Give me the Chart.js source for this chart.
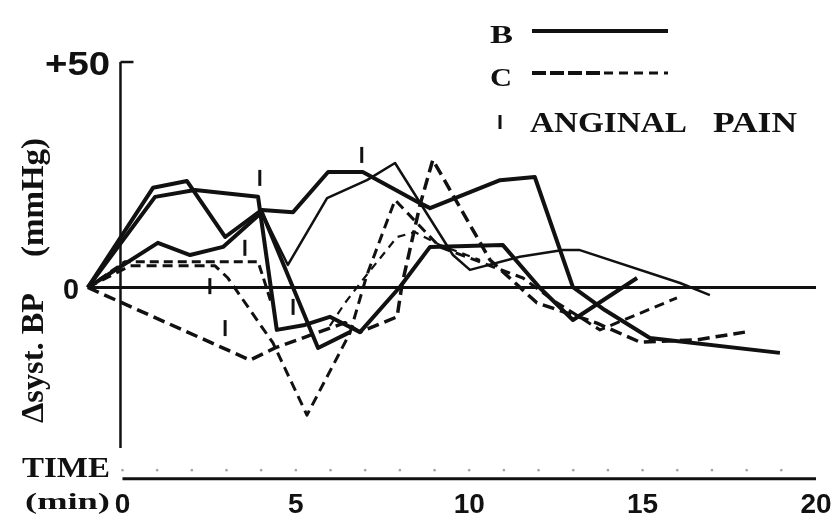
<!DOCTYPE html>
<html lang="en">
<head>
<meta charset="UTF-8">
<title>Delta syst. BP during exercise</title>
<style>
  html, body { margin: 0; padding: 0; background: #fff; }
  #wrap { width: 834px; height: 526px; position: relative; }
</style>
</head>
<body>
<div id="wrap"><canvas id="chart"></canvas></div>
<script src="https://cdn.jsdelivr.net/npm/chart.js@4.4.1/dist/chart.umd.min.js"></script>
<script>
// [time (min), change of systolic BP (mmHg)]
// B = solid lines, C = dashed lines
const b1 = [[-1,0],[0.88,22.1],[1.86,23.6],[2.96,11.2],[4.02,17.2],[4.92,16.7],[5.93,25.6],[6.93,25.6],
            [8.58,18.7],[8.87,17.6],[10.89,23.8],[11.89,24.5],[12.99,0.1],[13.91,-5.0],[15.21,-11.2],[18.96,-14.5]]
const b2 = [[-1,0],[0.94,20.1],[2.09,21.6],[3.91,20.1],[4.45,-9.4],[5.26,-8.3],[5.98,-6.5],[6.85,-9.9],
            [8.0,0.1],[8.87,9.0],[10.97,9.4],[12.04,-0.1],[12.99,-7.2],[14.84,2.1]]
const b3 = [[-1,0],[1.02,9.9],[1.95,7.2],[2.90,9.0],[4.02,16.7],[5.64,-13.4],[6.56,-9.9]]
const b4 = [[4.02,16.7],[4.77,5.0],[5.90,19.8],[7.05,23.8],[7.86,27.6],[9.53,7.2],[10.02,3.9],
            [11.46,6.8],[12.70,8.3],[13.19,8.3],[16.08,1.0],[16.94,-1.7]]

const c1 = [[-1,0],[3.68,-16.1],[4.40,-13.4],[6.42,-7.8],[6.85,-9.9],[7.92,-6.5],[8.06,0.6],[8.58,18.3],
            [8.95,28.3],[9.73,17.8],[10.60,6.1],[11.95,-3.4],[13.68,-7.9],[14.92,-12.1],[16.57,-11.6],[17.95,-9.9]]
const c2 = [[-1,0],[0.22,4.8],[2.67,4.8],[3.04,2.1],[4.34,-12.3],[5.32,-28.3],[6.56,-10.1],[7.05,2.8],
            [7.86,19.4],[9.15,9.0],[11.55,2.1],[12.41,-2.8],[13.77,-9.4],[15.99,-2.3]]
const c3 = [[-1,0],[0.07,5.7],[3.91,5.7],[4.11,1.0],[4.31,-3.9]]
const c4 = [[5.98,-8.5],[6.42,-3.4],[6.93,1.7],[7.92,11.2],[8.43,12.3],[9.16,9.4],[10.31,6.1]]

// anginal pain marks
const painMarks = [[3.96,24.3],[3.53,8.8],[2.52,0.3],[2.96,-9.0],[6.90,29.4],[4.92,-4.3]]

const xTicks = [0, 5, 10, 15, 20]
const yTicks = [50, 0]
const yTickLabels = ['+50', '0']

const ink = '#111'
const pts = arr => arr.map(p => ({ x: p[0], y: p[1] }))

const solid = (data, w) => ({
    type: 'line', data: pts(data), borderColor: ink, borderWidth: w,
    pointRadius: 0, tension: 0, fill: false, clip: false, borderJoinStyle: 'round'
})
const dashed = (data, w, dash) => Object.assign(solid(data, w), { borderDash: dash })

function line(ctx, x1, y1, x2, y2) {
    ctx.beginPath()
    ctx.moveTo(x1, y1)
    ctx.lineTo(x2, y2)
    ctx.stroke()
}

// draw text squeezed/stretched to a given width
function fitText(ctx, text, left, right, base, font) {
    ctx.save()
    ctx.font = font
    const w = ctx.measureText(text).width
    ctx.translate(left, base)
    ctx.scale((right - left) / w, 1)
    ctx.textAlign = 'left'
    ctx.textBaseline = 'alphabetic'
    ctx.fillText(text, 0, 0)
    ctx.restore()
}

const oldAxes = {
    id: 'oldAxes',
    beforeDatasetsDraw(chart) {
        const { ctx, scales: { x, y } } = chart
        ctx.save()
        ctx.strokeStyle = ink

        // zero line
        ctx.lineWidth = 3
        line(ctx, x.getPixelForValue(-1), y.getPixelForValue(0), x.getPixelForValue(20), y.getPixelForValue(0))

        // vertical BP axis with +50 tick
        const x0 = x.getPixelForValue(0) - 2
        ctx.lineWidth = 2.5
        line(ctx, x0, y.getPixelForValue(50), x0, y.getPixelForValue(-35.6))
        line(ctx, x0, y.getPixelForValue(50), x0 + 13, y.getPixelForValue(50))

        // time axis
        ctx.lineWidth = 3
        const yb = y.getPixelForValue(-42.4)
        line(ctx, x.getPixelForValue(0), yb, x.getPixelForValue(20), yb)

        // faint minute marks
        ctx.fillStyle = '#a8a8a8'
        const yd = y.getPixelForValue(-40.5)
        for (let m = 0; m < 20; m++) {
            ctx.beginPath()
            ctx.arc(x.getPixelForValue(m), yd, 1.3, 0, Math.PI * 2)
            ctx.fill()
        }
        ctx.restore()
    },
    afterDraw(chart) {
        const { ctx, scales: { x, y } } = chart
        ctx.save()
        ctx.fillStyle = ink
        ctx.strokeStyle = ink

        // y tick labels
        fitText(ctx, yTickLabels[0], 45, 110, y.getPixelForValue(yTicks[0]) + 13, 'bold 34px "Liberation Sans"')
        fitText(ctx, yTickLabels[1], 63, 79, y.getPixelForValue(yTicks[1]) + 12, 'bold 30px "Liberation Sans"')

        // y title, rotated
        ctx.save()
        ctx.translate(43, 423)
        ctx.rotate(-Math.PI / 2)
        fitText(ctx, '\u0394syst. BP', 0, 130, 0, 'bold 32px "Liberation Serif"')
        fitText(ctx, '(mmHg)', 166, 285, 0, 'bold 32px "Liberation Serif"')
        ctx.restore()

        // time axis labels
        fitText(ctx, 'TIME', 22, 110, 477, 'bold 30px "Liberation Serif"')
        fitText(ctx, '(min)', 25, 110, 509, 'bold 24px "Liberation Serif"')
        ctx.font = 'bold 28px "Liberation Sans"'
        ctx.textAlign = 'center'
        ctx.textBaseline = 'alphabetic'
        xTicks.forEach(t => ctx.fillText(String(t), x.getPixelForValue(t), 513))

        // legend
        fitText(ctx, 'B', 490, 513, 43, 'bold 26px "Liberation Serif"')
        fitText(ctx, 'C', 490, 512, 86, 'bold 26px "Liberation Serif"')
        ctx.lineWidth = 4
        line(ctx, 532, 31, 668, 31)
        ctx.lineWidth = 4
        ctx.setLineDash([14, 4])
        line(ctx, 532, 73, 600, 73)
        ctx.lineWidth = 3
        ctx.setLineDash([9, 6])
        line(ctx, 604, 73, 668, 73)
        ctx.setLineDash([])
        ctx.lineWidth = 3
        line(ctx, 500, 115, 500, 129)
        fitText(ctx, 'ANGINAL', 530, 687, 132, 'bold 30px "Liberation Serif"')
        fitText(ctx, 'PAIN', 713, 797, 132, 'bold 30px "Liberation Serif"')
        ctx.restore()
    }
}

new Chart(document.getElementById('chart'), {
    data: {
        datasets: [
            solid(b1, 4),
            solid(b2, 4),
            solid(b3, 4),
            solid(b4, 2.5),
            dashed(c1, 3.5, [12, 6]),
            dashed(c2, 3, [10, 6]),
            dashed(c3, 3, [9, 5]),
            dashed(c4, 2.2, [8, 6]),
            {
                type: 'scatter', data: pts(painMarks), showLine: false, clip: false,
                pointStyle: 'line', pointRotation: 90, pointRadius: 8,
                pointBorderWidth: 3, pointBorderColor: ink
            }
        ]
    },
    options: {
        responsive: true,
        maintainAspectRatio: false,
        animation: false,
        layout: { padding: { left: 87.8, right: 18, top: 53, bottom: 44.6 } },
        plugins: { legend: { display: false }, tooltip: { enabled: false } },
        scales: {
            x: { type: 'linear', min: -1, max: 20, display: false },
            y: { type: 'linear', min: -43, max: 52, display: false }
        }
    },
    plugins: [oldAxes]
})
</script>
</body>
</html>
